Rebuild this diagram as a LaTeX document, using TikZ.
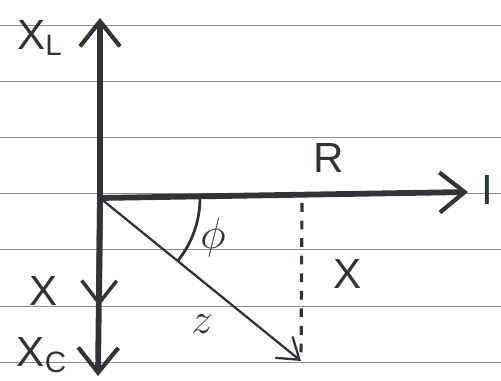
\documentclass[tikz,border=0pt]{standalone}
\usepackage{fontspec}
\setmainfont{Liberation Sans}
\usetikzlibrary{arrows.meta}
\definecolor{ink}{HTML}{303438}
\definecolor{rule}{HTML}{8E8E8E}
\begin{document}
\begin{tikzpicture}[x=0.02cm, y=-0.02cm,
    ruled/.style={draw=rule, line width=0.5pt},
    axis/.style={draw=ink, line width=3.3pt, -{Straight Barb[length=0.5cm, width=0.8cm, line width=2.4pt]}},
    phasor/.style={draw=ink, line width=1.3pt, -{Straight Barb[length=0.4cm, width=0.55cm, line width=1.3pt]}},
    label/.style={text=ink, font=\fontsize{24}{28}\selectfont}]
    \useasboundingbox (0,0) rectangle (501,381);
    % lines of the paper
    \foreach \y in {25,81,137,193,249,306,362}
        \draw[ruled] (0,\y) -- (501,\y);
    % points
    \coordinate (origin) at (100,198);
    \coordinate (top) at (100,18);
    \coordinate (bottom) at (98,376);
    \coordinate (xtip) at (99,306);
    \coordinate (right) at (468,192);
    \coordinate (ztip) at (301,361);
    \coordinate (foot) at (302,203);
    % axes
    \draw[axis] (origin) -- (top);
    \draw[axis] (origin) -- (bottom);
    \draw[axis, -{Straight Barb[length=0.45cm, width=0.7cm, line width=2pt]}] (origin) -- (xtip);
    \draw[axis] (origin) -- (right);
    % impedance and angle
    \draw[phasor] (origin) -- (ztip);
    \draw[draw=ink, line width=1.8pt, dash pattern=on 5pt off 5pt] (foot) -- (ztip);
    \draw[draw=ink, line width=1.6pt] (origin) ++(100,0) arc[start angle=0, end angle=39, radius=100];
    % labels
    \node[label] (XL) at (40,38) {X\textsubscript{L}};
    \node[label] (XC) at (42,355) {X\textsubscript{C}};
    \node[label] (Xsmall) at (44,291) {X};
    \node[label] (I) at (487,190) {I};
    \node[label] (R) at (329,158) {R};
    \node[label] (phi) at (213,238) {$\phi$};
    \node[label] (X) at (348,274) {X};
    \node[label] (z) at (202,324) {$z$};
\end{tikzpicture}
\end{document}
